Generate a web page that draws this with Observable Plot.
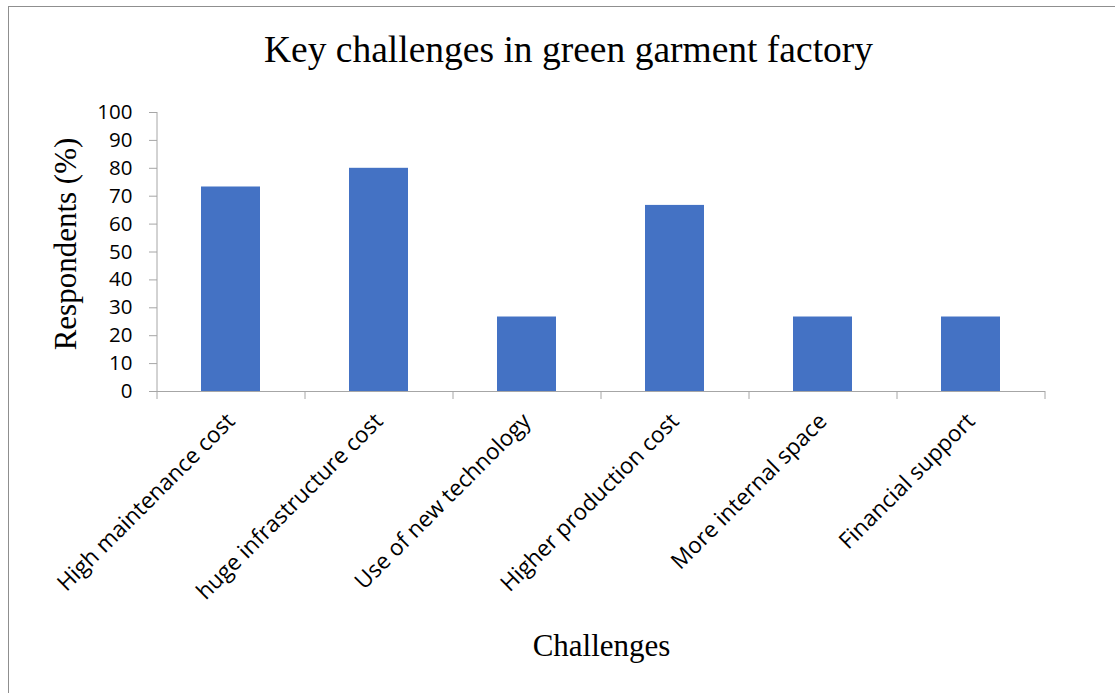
<!DOCTYPE html>
<html>
<head>
<meta charset="utf-8">
<script src="https://cdn.jsdelivr.net/npm/d3@7"></script>
<script src="https://cdn.jsdelivr.net/npm/@observablehq/plot@0.6"></script>
<style>
  html, body { margin: 0; padding: 0; background: #fff; }
  #wrap { position: relative; width: 1115px; height: 693px; overflow: hidden; }
  #border { position: absolute; left: 8px; top: 6px; width: 1200px; height: 800px;
            border-left: 1px solid #8f8f8f; border-top: 1px solid #8f8f8f; }
  #chart { position: absolute; left: 0; top: 0; }
</style>
</head>
<body>
<div id="wrap"><div id="border"></div><div id="chart"></div></div>
<script>
// Share of respondents naming each challenge
const challenges = [
  "High maintenance cost",
  "huge infrastructure cost",
  "Use of new technology",
  "Higher production cost",
  "More internal space",
  "Financial support"
];
const respondents = [73.3, 80, 26.7, 66.7, 26.7, 26.7];
const yTicks = [0, 10, 20, 30, 40, 50, 60, 70, 80, 90, 100];

const titleText = "Key challenges in green garment factory";
const yTitle = "Respondents (%)";
const xTitle = "Challenges";

const rows = challenges.map((c, i) => ({challenge: c, value: respondents[i]}));

const W = 1115, H = 693;
const mL = 157, mR = 70, mT = 112, mB = 302;
const step = (W - mL - mR) / challenges.length;
const yMax = 100;
// 8px outward tick length expressed in y units
const tickLen = 8 * yMax / (H - mT - mB);
const axisGray = "#a6a6a6";
const serif = "'Liberation Serif', 'Times New Roman', serif";
const sans = "'Open Sans', sans-serif";
const lastCat = challenges[challenges.length - 1];

const chart = Plot.plot({
  width: W,
  height: H,
  marginLeft: mL,
  marginRight: mR,
  marginTop: mT,
  marginBottom: mB,
  style: {fontFamily: sans, fontSize: "22.5px", color: "#000", background: "transparent"},
  x: {domain: challenges, paddingInner: 0.6, paddingOuter: 0.3, label: null},
  y: {domain: [0, yMax], label: null},
  marks: [
    Plot.barY(rows, {x: "challenge", y: "value", fill: "#4472c4"}),
    // category axis line
    Plot.ruleY([0], {stroke: axisGray, strokeWidth: 1}),
    // value axis line along the left edge of the first band
    Plot.ruleX([challenges[0]], {x: d => d, dx: -step / 2, y1: 0, y2: yMax, stroke: axisGray}),
    // boundary ticks between categories
    Plot.ruleX(challenges, {x: d => d, dx: -step / 2, y1: -tickLen, y2: 0, stroke: axisGray}),
    Plot.ruleX([lastCat], {x: d => d, dx: step / 2, y1: -tickLen, y2: 0, stroke: axisGray}),
    Plot.axisY({ticks: yTicks, tickSize: 8, tickPadding: 17, stroke: axisGray,
      tickFormat: d => String(d), fill: "#000", fontSize: 20.5}),
    Plot.axisX({tickSize: 0, tickPadding: 26, tickRotate: -45, fill: "#000", fontSize: 22.5}),
    Plot.text([titleText], {frameAnchor: "top", dx: -33, dy: -77, textAnchor: "middle",
      fontFamily: serif, fontSize: 37.5, fill: "#000"}),
    Plot.text([yTitle], {frameAnchor: "left", dx: -91, dy: -8, rotate: -90, textAnchor: "middle",
      fontFamily: serif, fontSize: 31, fill: "#000"}),
    Plot.text([xTitle], {frameAnchor: "bottom", dy: 264, textAnchor: "middle",
      fontFamily: serif, fontSize: 31, fill: "#000"})
  ]
});

document.getElementById("chart").appendChild(chart);
</script>
</body>
</html>
